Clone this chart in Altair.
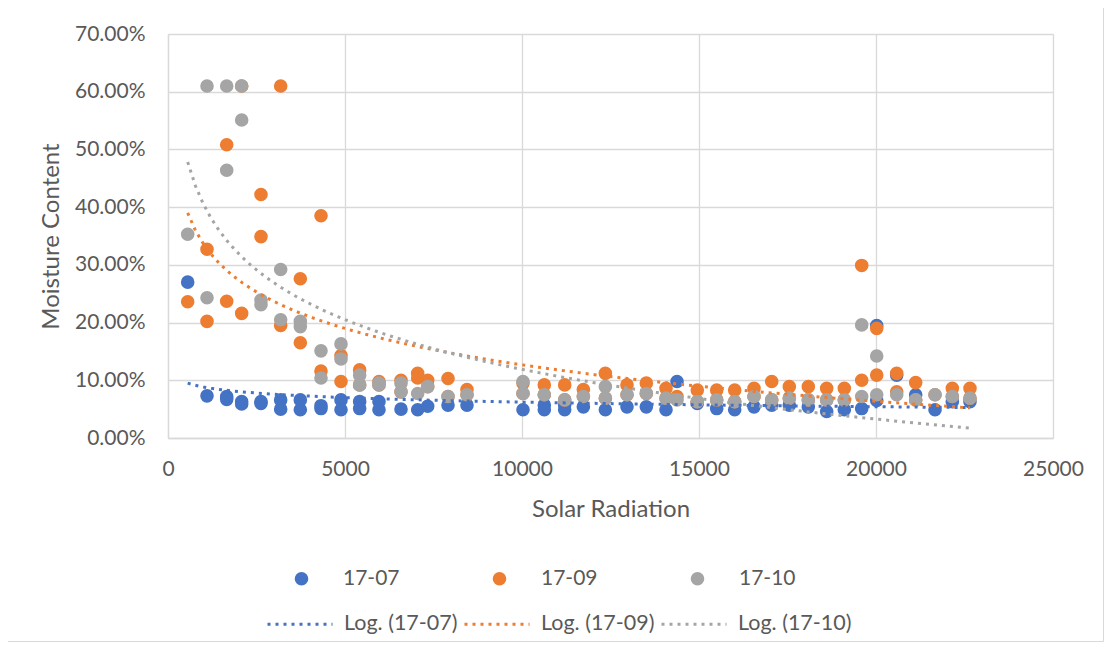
import altair as alt
import pandas as pd

series_names = ["17-07", "17-09", "17-10"]
trend_names = ["Log. (17-07)", "Log. (17-09)", "Log. (17-10)"]
colors = ["#4472C4", "#ED7D31", "#A5A5A5"]

x_0707 = [556, 1102, 1658, 1658, 2081, 2081, 2627, 2627, 3183, 3183, 3738, 3738,
          4322, 4322, 4887, 4887, 5414, 5414, 5960, 5960, 6582, 7053, 7336, 7910,
          8446, 10028, 10630, 10630, 11206, 11206, 11733, 12355, 12966, 13512,
          14068, 14379, 14952, 15500, 16008, 16554, 17054, 17551, 18088, 18607,
          19105, 19596, 20020, 20020, 20585, 21121, 21667, 22156, 22655]
y_0707 = [27.0, 7.3, 7.2, 6.7, 6.3, 5.9, 6.3, 6.0, 6.6, 5.0, 6.6, 4.9,
          5.1, 5.6, 6.6, 4.9, 6.3, 5.1, 6.3, 4.9, 5.0, 4.9, 5.5, 5.7,
          5.7, 4.9, 5.7, 4.9, 5.7, 4.9, 5.4, 4.9, 5.4, 5.4,
          4.9, 9.8, 6.0, 5.1, 4.9, 5.4, 5.7, 5.7, 5.4, 4.6,
          4.9, 5.1, 19.5, 6.5, 10.9, 7.5, 4.9, 6.3, 6.3]

# 17-09: visible readings, plus second readings that sit hidden under the grey markers
x_0709 = [556, 1102, 1102, 1658, 1658, 2081, 2081, 2627, 2627, 3183, 3183, 3738, 3738,
          4322, 4322, 4887, 4887, 5414, 5414, 5960, 5960, 6582, 6582, 7053, 7053,
          7336, 7336, 7910, 7910, 8446, 8446,
          10028, 10028, 10630, 10630, 11206, 11206, 11733, 11733, 12355, 12355,
          12966, 12966, 13512, 13512, 14068, 14068, 14379, 14952, 14952,
          15500, 15500, 16008, 16008, 16554, 16554, 17054, 17054, 17551, 17551,
          18088, 18088, 18607, 18607, 19105, 19105, 19596, 19596,
          20020, 20020, 20585, 20585, 21121, 21121, 21667, 22156, 22156, 22655, 22655]
y_0709 = [23.6, 20.2, 32.7, 23.7, 50.8, 21.6, 61.0, 42.2, 34.9, 61.0, 19.5, 27.6, 16.5,
          38.5, 11.6, 14.3, 9.8, 11.8, 9.2, 9.8, 9.2, 10.0, 8.0, 11.2, 10.4,
          10.0, 8.9, 10.3, 7.2, 8.4, 7.5,
          9.5, 7.7, 9.2, 7.5, 9.2, 6.6, 8.4, 7.2, 11.2, 6.9,
          9.2, 7.5, 9.5, 7.7, 8.6, 6.9, 7.2, 8.3, 6.3,
          8.3, 6.6, 8.3, 6.3, 8.6, 7.2, 9.8, 6.6, 8.9, 6.9,
          8.9, 6.6, 8.6, 6.6, 8.6, 6.6, 10.0, 29.9,
          10.9, 19.0, 11.2, 8.0, 9.6, 6.6, 7.5, 8.6, 7.2, 8.6, 6.9]

x_0710 = [556, 1102, 1102, 1658, 1658, 2081, 2081, 2627, 2627, 3183, 3183, 3738,
          3738, 4322, 4322, 4887, 4887, 5414, 5414, 5960, 5960, 6582, 6582, 7053,
          7336, 7910, 8446, 10028, 10028, 10630, 11206, 11733, 12355, 12355,
          12966, 13512, 14068, 14379, 14952, 15500, 16008, 16554, 17054, 17551,
          18088, 18607, 19105, 19596, 19596, 20020, 20020, 20585, 21121, 21667,
          22156, 22655]
y_0710 = [35.3, 61.0, 24.3, 61.0, 46.4, 61.0, 55.1, 23.9, 23.1, 29.2, 20.5, 20.2,
          19.3, 15.1, 10.4, 16.3, 13.7, 10.9, 9.2, 9.5, 9.2, 9.5, 8.0, 7.7,
          8.9, 7.2, 7.5, 9.8, 7.7, 7.5, 6.6, 7.2, 8.9, 6.9,
          7.5, 7.7, 6.9, 6.6, 6.3, 6.6, 6.3, 7.2, 6.6, 6.9,
          6.6, 6.6, 6.6, 7.2, 19.6, 7.5, 14.2, 7.5, 6.6, 7.5,
          7.2, 6.9]

x_ticks = [0, 5000, 10000, 15000, 20000, 25000]
y_ticks = [0.0, 0.1, 0.2, 0.3, 0.4, 0.5, 0.6, 0.7]

rows = []
for name, xs, ys in [("17-07", x_0707, y_0707), ("17-09", x_0709, y_0709), ("17-10", x_0710, y_0710)]:
    for xv, yv in zip(xs, ys):
        rows.append({"series": name, "x": xv, "y": yv / 100.0})
df = pd.DataFrame(rows)

FONT = "Lato"
TXT = "#595959"
GRID = "#D9D9D9"

x_enc = alt.X("x:Q", scale=alt.Scale(domain=[0, 25000], nice=False),
              axis=alt.Axis(values=x_ticks, format="d", title="Solar Radiation",
                            labelFlush=False))
y_enc = alt.Y("y:Q", scale=alt.Scale(domain=[0, 0.7], nice=False),
              axis=alt.Axis(values=y_ticks, format=".2%", title="Moisture Content"))

points = alt.Chart(df).mark_circle(size=185, opacity=1).encode(
    x=x_enc,
    y=y_enc,
    color=alt.Color("series:N", scale=alt.Scale(domain=series_names, range=colors),
                    legend=alt.Legend(orient="none", direction="horizontal", title=None,
                                      legendX=123, legendY=534, symbolSize=185,
                                      symbolType="circle", symbolOpacity=1,
                                      labelOffset=31, columnPadding=89,
                                      labelFont=FONT, labelFontSize=21, labelColor=TXT,
                                      padding=0)),
)

trend = alt.Chart(df).transform_regression(
    "x", "y", method="log", groupby=["series"]
).transform_calculate(
    label="'Log. (' + datum.series + ')'"
).mark_line(strokeWidth=3, strokeDash=[3, 5]).encode(
    x="x:Q",
    y="y:Q",
    stroke=alt.Stroke("label:N", scale=alt.Scale(domain=trend_names, range=colors),
                      legend=alt.Legend(orient="none", direction="horizontal", title=None,
                                        legendX=98, legendY=556, symbolType="stroke",
                                        symbolSize=4225, symbolStrokeWidth=3,
                                        symbolDash=[3, 5], labelOffset=10,
                                        columnPadding=0, labelFont=FONT,
                                        labelFontSize=21.5, labelColor=TXT, padding=0)),
)

border = alt.Chart(pd.DataFrame({"a": [0]})).mark_rect(
    fill=None, stroke=GRID, strokeWidth=1
).encode(
    x=alt.value(-167.5), x2=alt.value(935.5), y=alt.value(-28.5), y2=alt.value(607.5)
)

chart = alt.layer(border, points, trend).resolve_scale(
    color="independent", stroke="independent"
).properties(
    width=885, height=404,
    autosize=alt.AutoSizeParams(type="none"),
    padding={"left": 160, "top": 26, "right": 51, "bottom": 204},
).configure_view(
    stroke=None
).configure_axis(
    grid=True, gridColor=GRID, gridWidth=1.3, ticks=False,
    domainColor=GRID, domainWidth=1.3,
    labelFont=FONT, labelFontSize=21, labelColor=TXT,
    titleFont=FONT, titleFontSize=24, titleColor=TXT, titleFontWeight="normal",
).configure_axisX(
    labelPadding=20, titlePadding=18
).configure_axisY(
    labelPadding=23, titlePadding=11
)

chart.save("out.html", embed_options={"renderer": "svg", "actions": False})
